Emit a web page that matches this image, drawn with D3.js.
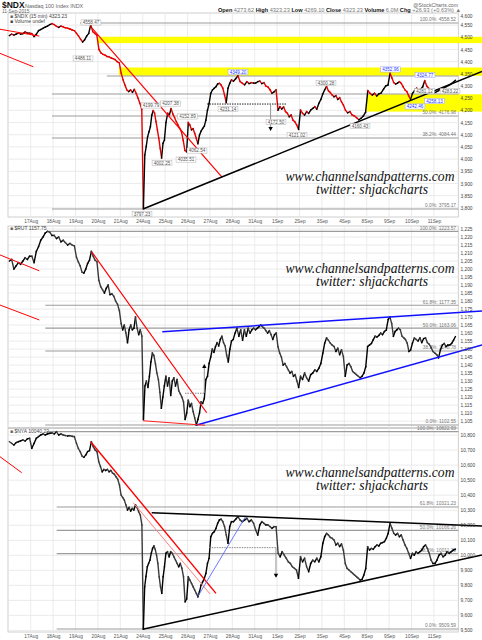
<!DOCTYPE html>
<html><head><meta charset="utf-8">
<script src="https://cdn.jsdelivr.net/npm/d3@7/dist/d3.min.js"></script>
<style>
body{margin:0;background:#fff}
svg{display:block}
</style>
</head><body>
<svg id="c" width="482" height="640" style="font-family:'Liberation Sans',Arial,sans-serif"></svg>
<script>
// ---------- DATA ----------
const dayLabels = ["14Aug","17Aug","18Aug","19Aug","20Aug","21Aug","24Aug","25Aug","26Aug","27Aug","28Aug","31Aug","1Sep","2Sep","3Sep","4Sep","8Sep","9Sep","10Sep","11Sep"];

// closes through each session (evenly spaced inside the day)
const ndxBars = [
 [4507,4513,4509,4513,4517,4513,4515,4522,4517,4517],
 [4515,4503,4512,4527,4532,4537,4542,4546,4552,4556],
 [4552,4545,4541,4546,4543,4539,4537,4534,4530,4527],
 [4516,4505,4492,4481,4490,4505,4516,4552,4523,4516,4508],
 [4450,4436,4430,4427,4421,4420,4415,4412,4408,4400,4395],
 [4352,4325,4304,4284,4277,4284,4274,4286,4270,4250,4229,4203],
 [3797,4017,4051,4092,4112,4133,4181,4199,4188,4154,4120,4085,4044,4005,4065,4078],
 [4150,4188,4182,4207,4185,4170,4154,4140,4126,4112,4078,4036,4030],
 [4150,4140,4120,4125,4106,4085,4063,4099,4115,4126,4135,4160,4201,4228],
 [4270,4284,4291,4297,4308,4311,4304,4291,4263,4232,4291,4311,4325],
 [4320,4330,4342,4318,4311,4305,4318,4310,4314,4312],
 [4312,4318,4320,4310,4314,4300,4296,4285,4270,4276,4284],
 [4201,4215,4206,4214,4195,4188,4174,4181,4160,4153,4140,4122],
 [4201,4188,4181,4195,4188,4201,4208,4215,4205,4229,4245],
 [4268,4284,4298,4280,4273,4263,4256,4260,4245,4252,4235,4222],
 [4201,4190,4195,4181,4177,4170,4161,4168,4177,4192],
 [4281,4270,4263,4270,4259,4268,4272,4287,4300,4304],
 [4352,4333,4314,4308,4312,4318,4311,4297,4284,4277,4260,4245],
 [4270,4281,4291,4280,4287,4297,4322,4300,4290,4277,4283],
 [4273,4277,4281,4287,4284,4293,4297,4301,4305,4310,4316,4323.23]
];
const rutBars = [
 [1205,1206,1200,1202,1204,1203,1205,1207,1206,1208],
 [1208,1204,1211,1214,1218,1220,1222.5,1223.5,1223,1221],
 [1221,1219,1220,1217,1218,1216.5,1215,1216,1215,1214.5],
 [1207.5,1204.5,1202,1198,1197.5,1200,1203.5,1205.5,1211,1208,1205.5,1204.5],
 [1193,1189,1187,1185,1188,1190,1184,1184.5,1183,1180,1178,1174],
 [1166,1162,1165,1160,1154,1162,1165,1162,1163,1170,1163,1159,1162,1158],
 [1106,1127,1130,1126,1133,1142,1147.5,1146,1141,1135,1131,1123,1113,1120,1127],
 [1133,1127,1132,1121,1130,1132,1127,1131,1124,1122,1120,1117,1106,1110],
 [1118,1114,1116,1111,1107,1102.6,1106,1110,1117,1116,1119,1131,1133,1141],
 [1145,1150,1148,1151.5,1154,1152,1156,1158,1154,1152,1146,1142,1150,1155],
 [1156,1160,1163,1158,1162,1155.5,1162,1158,1163,1160,1162,1163],
 [1162,1163,1164,1165,1164,1163,1161.5,1160,1161.5,1159,1156,1159,1160],
 [1151.5,1147.5,1145,1140,1141,1139,1137,1135,1136,1133,1134,1130,1126],
 [1133,1131,1135,1132,1130,1134,1135,1137,1136,1138,1141],
 [1147.5,1153.7,1157,1155.5,1153.7,1152.5,1151.6,1148.5,1150.5,1146.5,1149.5,1145.4],
 [1133,1140,1141,1139,1136,1135,1134,1133,1132,1133,1135,1139],
 [1151.6,1152.5,1153.5,1155.8,1158,1157.5,1158.5,1160,1159,1161,1162,1168.5],
 [1170,1166,1158,1161,1162,1163,1162,1158,1157,1156,1153.7,1148.5,1149.5],
 [1153.7,1156.9,1156,1155,1157,1154,1156.5,1157,1154,1153,1151,1148.5],
 [1147.5,1146.5,1144.5,1149.5,1152.5,1153.5,1151.6,1152.5,1152.5,1153.5,1155.5,1157.75]
];
const nyaBars = [
 [10756,10745,10734,10750,10756,10762,10768,10760,10775,10779],
 [10712,10745,10779,10790,10801,10808,10801,10808,10812,10815],
 [10808,10822,10801,10808,10801,10797,10794,10796,10792,10790],
 [10746,10712,10690,10661,10652,10668,10690,10697,10756,10723,10701,10690],
 [10623,10590,10556,10572,10565,10572,10556,10565,10548,10540,10523,10506,10468],
 [10401,10385,10368,10335,10302,10318,10295,10312,10302,10335,10318,10290,10268,10202],
 [9510,9791,9860,9924,9946,9968,10013,10046,10062,10040,10001,9946,9857,9791,9747,9857,9924],
 [10013,10024,9990,10024,10013,9990,9968,9946,9924,9946,9913,9857,9691,9710],
 [9857,9835,9813,9791,9769,9747,9724,9758,9802,9824,9846,9880,9946,9980],
 [10124,10146,10157,10179,10213,10235,10240,10224,10191,10135,10080,10191,10224],
 [10224,10240,10257,10235,10224,10235,10246,10224,10235,10213],
 [10168,10135,10202,10224,10213,10202,10202,10191,10180,10191,10190],
 [10013,9990,10024,10001,9980,9957,9946,9924,9913,9902,9847],
 [9991,9957,9980,9924,9891,9946,9968,9957,9980,9957,9991],
 [10080,10124,10146,10135,10119,10113,10102,10069,10080,10058,10075,10035],
 [9946,9913,9902,9891,9880,9869,9858,9847,9835,9840,9869,9913],
 [10057,10035,10046,10040,10057,10069,10062,10080,10085,10091,10113,10146],
 [10213,10180,10146,10135,10146,10124,10135,10102,10069,10046,10013,9980],
 [10013,10001,10024,10013,10024,10035,10057,10069,10046,10013,9968,9946],
 [9946,9968,10001,10013,9990,10001,10024,10013,10024,10035,10040.22]
];

const ndxTicks = [3800,3850,3900,3950,4000,4050,4100,4150,4200,4250,4300,4350,4400,4450,4500,4550,4600];
const rutTicks = [1105,1110,1115,1120,1125,1130,1135,1140,1145,1150,1155,1160,1165,1170,1175,1180,1185,1190,1195,1200,1205,1210,1215,1220,1225];
const nyaTicks = [9500,9600,9700,9800,9900,10000,10100,10200,10300,10400,10500,10600,10700,10800];

// Fibonacci / horizontal levels: [value, label, startDay]
const ndxLevels = [[4558.6,"100.0%: 4558.52",3.2],[4341.1,"",4.4],[4267.2,"",1.95],[4176.9,"50.0%: 4176.98",1.95],[4086.6,"38.2%: 4084.44",1.95],[3795.2,"0.0%: 3795.17",1.95]];
const rutLevels = [[1223.57,"100.0%: 1223.57",1.7],[1177.34,"61.8%: 1177.35",1.65],[1163.06,"50.0%: 1163.06",1.65],[1148.78,"38.2%: 1148.78",1.65],[1102.55,"0.0%: 1102.55",1.65]];
const nyaLevels = [[10822.93,"100.0%: 10822.93",1.71],[10321.23,"61.8%: 10321.23",2.16],[10166.26,"50.0%: 10166.26",2.16],[10011.29,"38.2%: 10011.29",2.16],[9509.59,"0.0%: 9509.59",2.16]];

// yellow zones on NDX: [fromDay, lowValue, highValue]
const ndxZones = [[3.96,4476,4502],[4.94,4342,4376],[16.0,4195,4266]];

// trend lines: [d1, v1, d2, v2, color, width]
const ndxLines = [
 [3.737,4538,9.54,3926,"#ff0000",1.2],
 [6.013,3795,21.147,4360,"#000000",1.5],
 [-0.37,4533,1.384,4505,"#ff0000",1],
 [-0.37,4434,1.116,4379,"#ff0000",1]
];
const rutLines = [
 [3.723,1210.8,8.857,1110.2,"#ff0000",1.2],
 [6.875,1160.8,21.147,1173.8,"#1010ff",1.5],
 [8.411,1102.5,21.147,1152.5,"#1010ff",1.5],
 [6.013,1105.2,8.78,1102.4,"#ff2020",1.2],
 [-0.37,1208.8,1.384,1198.9,"#ff0000",1],
 [-0.37,1177.5,1.384,1168.2,"#ff0000",1]
];
const nyaLines = [
 [3.679,10756,9.272,9747,"#ff0000",1.4],
 [5.58,10350,9.004,9743,"#ff8080",1],
 [8.455,9725,10.61,10262,"#5a6cff",0.9],
 [6.402,10284,21.147,10195,"#000000",1.5],
 [6.0,9508,21.147,10002,"#000000",1.5],
 [-0.37,10656,0.598,10550,"#ff0000",1]
];
// dotted breakout levels and arrows: [d1, d2, level, arrowDay, arrowTo]
const ndxBreak = [8.87,12.44,4226,11.71,4119];
const rutBreak = [7.89,8.78,1122.4,8.75,1140];
const nyaBreak = [8.97,11.95,10051,11.95,9858];

// price label boxes on NDX: [day, value, text, blue?]
const ndxNotes = [
 [3.335,4413,"4486.11",0],[3.692,4561,"4558.47",0],[6.371,4220,"4199.79",0],[7.241,4228,"4207.38",0],
 [8.0,4175,"4152.89",0],[6.862,3984,"4002.25",0],[7.933,3998,"4035.51",0],[8.424,4035,"4062.54",0],
 [9.808,4206,"4231.14",0],[5.969,3775,"3797.23",0],[10.254,4357,"4349.20",1],[11.951,4152,"4172.50",0],
 [12.888,4099,"4121.02",0],[14.183,4312,"4300.28",0],[15.701,4136,"4160.43",0],[17.063,4368,"4352.96",1],
 [18.603,4345,"4324.77",1],[18.156,4216,"4242.46",1],[19.027,4238,"4258.13",1],[18.58,4279,"4281.12",0],[19.72,4279,"4283.22",0]
];

// ---------- CHART ----------
const SANS = "'Liberation Sans',Arial,sans-serif";
const svg = d3.select("#c");
const x = d3.scaleLinear().domain([0,20]).range([8.3,456.3]);
const L = 8, R = 458.3;

const panels = [
 {bars:ndxBars, ticks:ndxTicks, levels:ndxLevels, lines:ndxLines, brk:ndxBreak, top:13, bottom:217, dom:[3762.3,4599.7], up:"#000", down:"#e60000", arrowDown:true, title:"$NDX (15 min) 4323.23", wm:[181,193.5]},
 {bars:rutBars, ticks:rutTicks, levels:rutLevels, lines:rutLines, brk:rutBreak, top:226, bottom:427.5, dom:[1100.99,1226.9], up:"#000", down:"#3a3a3a", arrowDown:false, title:"$RUT 1157.75", wm:[273,285.5]},
 {bars:nyaBars, ticks:nyaTicks, levels:nyaLevels, lines:nyaLines, brk:nyaBreak, top:428.5, bottom:632, dom:[9489.6,10844], up:"#000", down:"#3a3a3a", arrowDown:true, title:"$NYA 10040.22", wm:[477,489.5]}
];

panels.forEach((p,pi)=>{
  const y = d3.scaleLinear().domain(p.dom).range([p.bottom,p.top]);
  p.y = y;
  const g = svg.append("g");
  g.append("rect").attr("x",L).attr("y",p.top).attr("width",R-L).attr("height",p.bottom-p.top)
    .attr("fill","#fff").attr("stroke","#c4c4c4").attr("stroke-width",0.8);
  // grids
  g.selectAll(".hg").data(p.ticks).join("line").attr("x1",L).attr("x2",R)
    .attr("y1",d=>y(d)).attr("y2",d=>y(d)).attr("stroke","#e6e6e6").attr("stroke-width",0.8);
  g.selectAll(".vg").data(d3.range(1,20)).join("line").attr("x1",d=>x(d)).attr("x2",d=>x(d))
    .attr("y1",p.top).attr("y2",p.bottom).attr("stroke","#e6e6e6").attr("stroke-width",0.8);
  // zones
  if(pi===0){
    g.selectAll(".z").data(ndxZones).join("rect").attr("x",d=>x(d[0])).attr("width",d=>482-x(d[0]))
      .attr("y",d=>y(d[2])).attr("height",d=>y(d[1])-y(d[2])).attr("fill","#ffff00");
  }
  // levels
  g.selectAll(".lv").data(p.levels).join("line").attr("x1",d=>x(d[2])).attr("x2",R)
    .attr("y1",d=>y(d[0])).attr("y2",d=>y(d[0])).attr("stroke","#9c9c9c").attr("stroke-width",1.1);
  g.selectAll(".lvt").data(p.levels.filter(d=>d[1])).join("text").attr("x",456).attr("y",d=>y(d[0])-1.6)
    .attr("text-anchor","end").attr("font-size",4.8).attr("fill","#777").text(d=>d[1]);
  // watermark (under the price)
  const wm = g.append("g").attr("text-anchor","middle").style("font-family","'Liberation Serif','DejaVu Serif',serif")
    .style("font-style","italic").attr("font-size",13.6).attr("fill","#111");
  wm.append("text").attr("x",370).attr("y",p.wm[0]).text("www.channelsandpatterns.com");
  wm.append("text").attr("x",372).attr("y",p.wm[1]).text("twitter: shjackcharts");
  // price
  const pts=[];
  p.bars.forEach((day,k)=>{const n=day.length; day.forEach((v,j)=>pts.push([k+(j+0.5)/n,v]));});
  const segs = d3.pairs(pts);
  g.selectAll(".s").data(segs).join("line")
    .attr("x1",d=>x(d[0][0])).attr("y1",d=>y(d[0][1])).attr("x2",d=>x(d[1][0])).attr("y2",d=>y(d[1][1]))
    .attr("stroke",d=>d[1][1]>=d[0][1]?p.up:p.down).attr("stroke-width",1.4).attr("stroke-linecap","square");
  // trend lines
  g.selectAll(".tl").data(p.lines).join("line")
    .attr("x1",d=>x(d[0])).attr("y1",d=>y(d[1])).attr("x2",d=>x(d[2])).attr("y2",d=>y(d[3]))
    .attr("stroke",d=>d[4]).attr("stroke-width",d=>d[5]);
  // breakout dotted level and arrow
  const b=p.brk;
  g.append("line").attr("x1",x(b[0])).attr("x2",x(b[1])).attr("y1",y(b[2])).attr("y2",y(b[2]))
    .attr("stroke",pi===0?"#222":"#888").attr("stroke-width",1).attr("stroke-dasharray","1.5,1");
  g.append("line").attr("x1",x(b[3])).attr("x2",x(b[3])).attr("y1",y(b[2])).attr("y2",y(b[4]))
    .attr("stroke","#888").attr("stroke-width",0.9);
  const ax=x(b[3]), ay=y(b[4]);
  const tri = p.arrowDown ? `M${ax-2.2},${ay-3}L${ax+2.2},${ay-3}L${ax},${ay+1}Z` : `M${ax-2.2},${ay+3}L${ax+2.2},${ay+3}L${ax},${ay-1}Z`;
  g.append("path").attr("d",tri).attr("fill","#000");
  // right axis
  const axis = d3.axisRight(y).tickValues(p.ticks).tickSize(0).tickPadding(0);
  const ag = g.append("g").attr("transform",`translate(460.5,0)`).call(axis);
  ag.select(".domain").remove();
  ag.selectAll("text").attr("font-size",4.8).attr("fill","#444").style("font-family",SANS)
    .attr("y",d=>Math.max(0,p.top+3-y(d)));
  // legend
  const lg = g.append("text").attr("x",L+2).attr("y",p.top+(pi===0?4.8:4.2)).attr("font-size",5).attr("fill","#444");
  lg.append("tspan").text("\u25a0 ").attr("fill","#666");
  lg.append("tspan").text(p.title);
  if(pi===0){
    g.append("text").attr("x",L+2).attr("y",p.top+9.8).attr("font-size",5).attr("fill","#444").text("\u25a0 Volume undef");
  }
});

// NDX price note boxes
const y0 = panels[0].y;
const ng = svg.append("g");
ndxNotes.forEach(n=>{
  const cx=x(n[0]), cy=y0(n[1]), w=n[2].length*2.55+2, h=5.2;
  ng.append("rect").attr("x",cx-w/2).attr("y",cy-h/2).attr("width",w).attr("height",h)
    .attr("fill","#fff").attr("stroke",n[3]?"#9aa0ff":"#b0b0b0").attr("stroke-width",0.5);
  ng.append("text").attr("x",cx).attr("y",cy+1.7).attr("text-anchor","middle").attr("font-size",4.6)
    .attr("fill",n[3]?"#2a3cff":"#555").text(n[2]);
});

// date axes
[[panels[0],217,3],[panels[2],632,2.6]].forEach(([p,ty,pad])=>{
  const a = d3.axisBottom(x).tickValues(d3.range(1,20)).tickFormat(i=>dayLabels[i]).tickSize(0).tickPadding(pad);
  const ag = svg.append("g").attr("transform",`translate(0,${ty})`).call(a);
  ag.select(".domain").remove();
  ag.selectAll("text").attr("font-size",4.8).attr("fill","#555").style("font-family",SANS);
});

// header
svg.append("text").attr("x",2).attr("y",8.3).attr("font-size",8.5).attr("font-weight","bold").attr("fill","#111").text("$NDX");
svg.append("text").attr("x",25).attr("y",7.6).attr("font-size",5.4).attr("fill","#666").text("Nasdaq 100 Index  INDX");
svg.append("text").attr("x",2).attr("y",13.3).attr("font-size",4.8).attr("fill","#666").text("11-Sep-2015");
svg.append("text").attr("x",458).attr("y",6.8).attr("text-anchor","end").attr("font-size",5.2).attr("fill","#666").text("@StockCharts.com");
const hd = svg.append("text").attr("x",218).attr("y",11.8).attr("font-size",5.6);
[["Open","4273.62"],["High","4323.23"],["Low","4269.10"],["Close","4323.23"],["Volume","6.0M"],["Chg","+26.93 (+0.63%) \u25b2"]].forEach(([k,v])=>{
  hd.append("tspan").attr("font-weight","bold").attr("fill","#111").text(k+" ");
  hd.append("tspan").attr("fill","#777").text(v+"  ");
});
</script>
</body></html>
